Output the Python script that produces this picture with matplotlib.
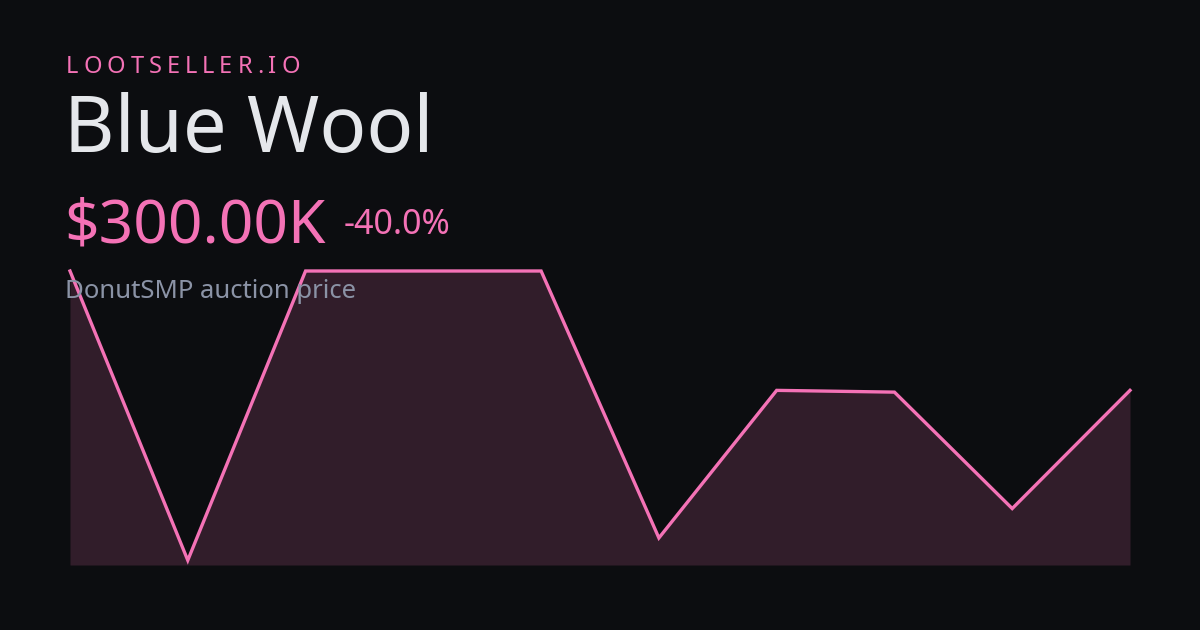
import matplotlib
matplotlib.use("Agg")
import matplotlib.pyplot as plt

# price history (thousands), oldest -> newest
points = list(range(10))
prices_k = [500, 8, 500, 500, 500, 46, 297, 294, 96, 297]

brand = "LOOTSELLER.IO"
item_name = "Blue Wool"
price_label = "$300.00K"
change_label = "-40.0%"
caption = "DonutSMP auction price"

BG = "#0c0d10"
PINK = "#f472b6"
W, H = 1200, 630

plt.rcParams['font.family'] = ['Noto Sans', 'DejaVu Sans']

fig = plt.figure(figsize=(12, 6.3), dpi=100, facecolor=BG)

def px(x, y):
    # pixel coords (from top-left) -> figure fraction
    return x / W, 1 - y / H

# chart area
ax = fig.add_axes([70 / W, (H - 565) / H, (1130 - 70) / W, (565 - 271) / H])
ax.set_facecolor("none")
ax.fill_between(points, prices_k, 0, color=PINK, alpha=0.16, linewidth=0)
ax.plot(points, prices_k, color=PINK, linewidth=2.4, clip_on=False,
        solid_joinstyle="miter")
ax.set_xlim(0, 9)
ax.set_ylim(0, 500)
ax.axis("off")

# brand with letter spacing
fig.canvas.draw()
renderer = fig.canvas.get_renderer()
x = 66
for ch in brand:
    t = fig.text(*px(x, 73), ch, color=PINK, fontsize=17, va="baseline", ha="left")
    w = t.get_window_extent(renderer).width
    x += w + 4.95

fig.text(*px(64, 152), item_name, color="#e5e7eb", fontsize=56, va="baseline")
fig.text(*px(64, 243), price_label, color=PINK, fontsize=43.5, va="baseline")
fig.text(*px(344, 234), change_label, color=PINK, fontsize=24.5, va="baseline")
fig.text(*px(65, 298), caption, color="#8b93a6", fontsize=18.5, va="baseline")

fig.savefig("out.png", dpi=100, facecolor=BG)
